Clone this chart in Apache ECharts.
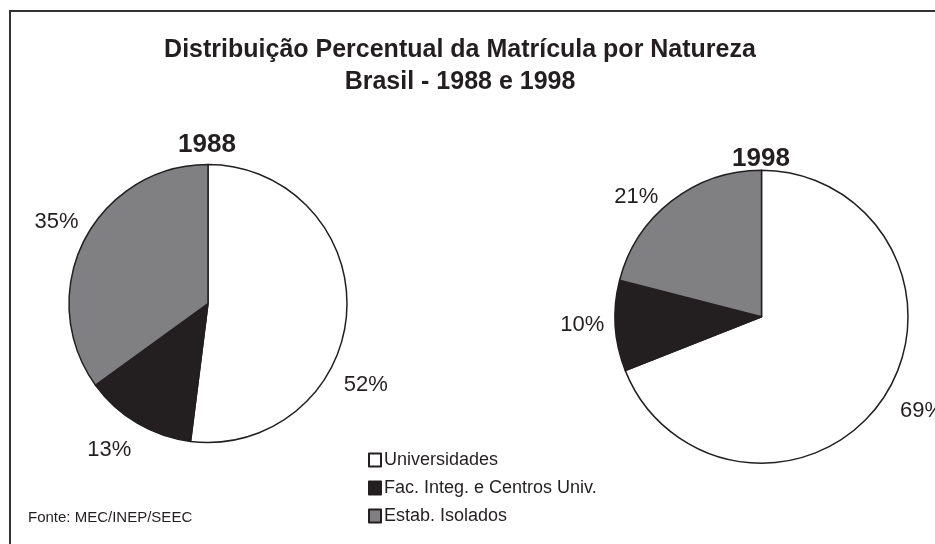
<!DOCTYPE html>
<html>
<head>
<meta charset="utf-8">
<script src="https://cdn.jsdelivr.net/npm/echarts@6/dist/echarts.min.js"></script>
<style>
  html, body { margin: 0; padding: 0; background: #fff; }
  #main { width: 935px; height: 544px; }
</style>
</head>
<body>
<div id="main"></div>
<script>
// categorias e valores (%)
const categories = ['Universidades', 'Fac. Integ. e Centros Univ.', 'Estab. Isolados']
const values1988 = [52, 13, 35]
const values1998 = [69, 10, 21]
const years = ['1988', '1998']
const sliceColors = ['#ffffff', '#231f20', '#808083']

// deslocamento dos rótulos em relação à posição padrão (estilo Excel)
const labelShift = [
  [[-12, 72], [1, 23], [3, -17]],
  [[9, 10], [-2, -1], [-6, -1]]
]

const font = 'Liberation Sans, Arial, sans-serif'

var myChart = echarts.init(document.getElementById('main'))

function makePie(values, idx, center, radius) {
  return {
    type: 'pie',
    name: years[idx],
    center: center,
    radius: radius,
    startAngle: 90,
    clockwise: true,
    animation: false,
    emphasis: { disabled: true },
    label: {
      show: true,
      position: 'outside',
      formatter: '{c}%',
      fontFamily: font,
      fontSize: 22,
      color: '#231f20',
      overflow: 'none'
    },
    labelLine: { show: false, length: 4, length2: 0 },
    labelLayout: function (p) {
      const s = labelShift[idx][p.dataIndex]
      return { dx: s[0], dy: s[1] }
    },
    itemStyle: { borderColor: '#231f20', borderWidth: 1.5 },
    data: categories.map((name, i) => ({
      name: name,
      value: values[i],
      itemStyle: { color: sliceColors[i] }
    }))
  }
}

var option = {
  backgroundColor: '#fff',
  color: sliceColors,
  title: [
    {
      text: 'Distribuição Percentual da Matrícula por Natureza\nBrasil - 1988 e 1998',
      left: 455, top: 29, textAlign: 'center',
      textStyle: { fontFamily: font, fontSize: 25, fontWeight: 'bold', color: '#231f20', lineHeight: 32 }
    },
    {
      text: years[0], left: 202, top: 127, textAlign: 'center',
      textStyle: { fontFamily: font, fontSize: 26, fontWeight: 'bold', color: '#231f20' }
    },
    {
      text: years[1], left: 756, top: 141, textAlign: 'center',
      textStyle: { fontFamily: font, fontSize: 26, fontWeight: 'bold', color: '#231f20' }
    },
    {
      text: 'Fonte: MEC/INEP/SEEC', left: 23, top: 505,
      textStyle: { fontFamily: font, fontSize: 15, fontWeight: 'normal', color: '#231f20' }
    }
  ],
  legend: {
    orient: 'vertical',
    left: 363, top: 446,
    itemWidth: 12, itemHeight: 13, itemGap: 10,
    icon: 'rect',
    selectedMode: false,
    data: categories,
    textStyle: { fontFamily: font, fontSize: 18, color: '#231f20', padding: [0, 0, 0, -2] }
  },
  graphic: [{
    type: 'rect',
    shape: { x: 10, y: 11, width: 940, height: 550 },
    style: { fill: 'none', stroke: '#333', lineWidth: 2 },
    silent: true
  }],
  series: [
    makePie(values1988, 0, [208, 303.5], 139),
    makePie(values1998, 1, [761.5, 316.7], 146.5)
  ]
}

myChart.setOption(option)
</script>
</body>
</html>
